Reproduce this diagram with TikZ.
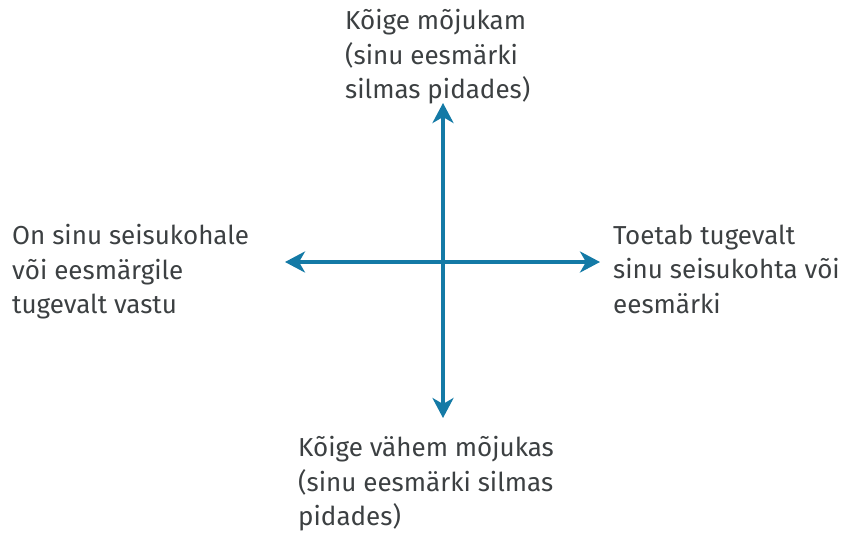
\documentclass[tikz,border=0pt]{standalone}
\usepackage{fontspec}
\setmainfont{Fira Sans}
\usetikzlibrary{arrows.meta}
\definecolor{axisblue}{RGB}{20,122,166}
\definecolor{lbltext}{RGB}{60,64,66}
\tikzset{x=1pt, y=-1pt,
    axis/.style={draw=axisblue, line width=4pt,
        {Stealth[length=20pt, width=21pt, inset=6pt]}-{Stealth[length=20pt, width=21pt, inset=6pt]}},
    lbl/.style={anchor=west, align=left, inner sep=0pt, text=lbltext,
        font=\fontsize{26}{34.5}\selectfont},
    }
\begin{document}
\begin{tikzpicture}
\useasboundingbox (0,0) rectangle (851,536);
\coordinate (top) at (443,103);
\coordinate (bottom) at (443,418);
\coordinate (left) at (285,262);
\coordinate (right) at (600,262);
\draw[axis] (bottom) -- (top);
\draw[axis] (left) -- (right);
% labels
\node[lbl] (most) at (345,57) {Kõige mõjukam\\(sinu eesmärki\\silmas pidades)};
\node[lbl] (least) at (298,484) {Kõige vähem mõjukas\\(sinu eesmärki silmas\\pidades)};
\node[lbl] (against) at (12,272) {On sinu seisukohale\\või eesmärgile\\tugevalt vastu};
\node[lbl] (support) at (613,269) {Toetab tugevalt\\sinu seisukohta või\\eesmärki};
\end{tikzpicture}
\end{document}
